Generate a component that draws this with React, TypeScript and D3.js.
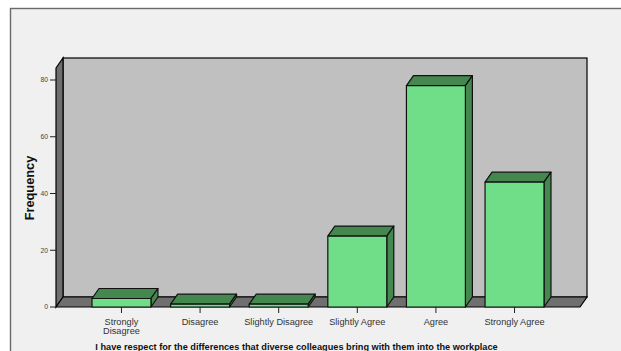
import React from "react";
import * as d3 from "d3";

const categories = ["Strongly Disagree", "Disagree", "Slightly Disagree", "Slightly Agree", "Agree", "Strongly Agree"];
const frequencies = [3, 1, 1, 25, 78, 44];
const yTicks = [0, 20, 40, 60, 80];
const xTitle = "I have respect for the differences that diverse colleagues bring with them into the workplace";
const yTitle = "Frequency";

const W = 621;
const H = 351;
const FONT = "Liberation Sans, Arial, sans-serif";
const DX = 7;
const DY = 10;
const FRONT_LEFT = 56;
const FRONT_RIGHT = 580;
const FRONT_BOTTOM = 307;
const FRONT_TOP = 68;

const x = d3.scaleBand<string>().domain(categories).range([92, 544]).paddingInner(0.25);
const y = d3.scaleLinear().domain([0, 80]).range([FRONT_BOTTOM, 80]);

const poly = (pts: [number, number][]) => (d3.line()(pts) ?? "") + "Z";

function wrapped(label: string) {
  return label === "Strongly Disagree" ? ["Strongly", "Disagree"] : [label];
}

export default function App() {
  return (
    <svg width={W} height={H} style={{ position: "absolute", left: 0, top: 0, display: "block" }} fontFamily={FONT}>
      <rect width={W} height={H} fill="#ffffff" />
      <rect x={10.5} y={8.5} width={W} height={H} fill="#f0f0f0" stroke="#6a6a6a" strokeWidth={1.4} />

      {/* back wall, side wall and floor of the 3-D frame */}
      <rect x={FRONT_LEFT + DX} y={FRONT_TOP - DY} width={FRONT_RIGHT - FRONT_LEFT} height={FRONT_BOTTOM - FRONT_TOP}
        fill="#c0c0c0" stroke="#000" strokeWidth={1.2} />
      <path d={poly([[FRONT_LEFT, FRONT_TOP], [FRONT_LEFT + DX, FRONT_TOP - DY], [FRONT_LEFT + DX, FRONT_BOTTOM - DY], [FRONT_LEFT, FRONT_BOTTOM]])}
        fill="#6f6f6f" stroke="#000" strokeWidth={1.2} />
      <path d={poly([[FRONT_LEFT, FRONT_BOTTOM], [FRONT_LEFT + DX, FRONT_BOTTOM - DY], [FRONT_RIGHT + DX, FRONT_BOTTOM - DY], [FRONT_RIGHT, FRONT_BOTTOM]])}
        fill="#6f6f6f" stroke="#000" strokeWidth={1.2} />

      {/* y axis ticks */}
      {yTicks.map((t) => (
        <g key={t}>
          <line x1={50} x2={FRONT_LEFT} y1={y(t)} y2={y(t)} stroke="#222" strokeWidth={1} />
          <text x={48} y={y(t) + 2.4} fontSize={6.8} textAnchor="end" fill="#444">{t}</text>
        </g>
      ))}
      <text transform="translate(33.5,188) rotate(-90)" fontSize={12.8} fontWeight="bold" textAnchor="middle" fill="#111">{yTitle}</text>

      {/* bars */}
      {categories.map((c, i) => {
        const x0 = x(c) as number;
        const x1 = x0 + x.bandwidth();
        const top = y(frequencies[i]);
        return (
          <g key={c} stroke="#111" strokeWidth={1.2} strokeLinejoin="round">
            <path d={poly([[x0, top], [x0 + DX, top - DY], [x1 + DX, top - DY], [x1, top]])} fill="#44874f" />
            <path d={poly([[x1, top], [x1 + DX, top - DY], [x1 + DX, FRONT_BOTTOM - DY], [x1, FRONT_BOTTOM]])} fill="#44874f" />
            <rect x={x0} y={top} width={x.bandwidth()} height={FRONT_BOTTOM - top} fill="#70dd88" />
          </g>
        );
      })}

      {/* x axis ticks and category labels */}
      {categories.map((c) => {
        const cx = (x(c) as number) + x.bandwidth() / 2;
        return (
          <g key={c}>
            <line x1={cx} x2={cx} y1={FRONT_BOTTOM} y2={FRONT_BOTTOM + 6} stroke="#222" strokeWidth={1} />
            {wrapped(c).map((line, k) => (
              <text key={line} x={cx} y={325 + k * 9.3} fontSize={9.2} textAnchor="middle" fill="#333">{line}</text>
            ))}
          </g>
        );
      })}
      <text x={296.5} y={350} fontSize={9.2} fontWeight="bold" textAnchor="middle" fill="#111">{xTitle}</text>
    </svg>
  );
}
